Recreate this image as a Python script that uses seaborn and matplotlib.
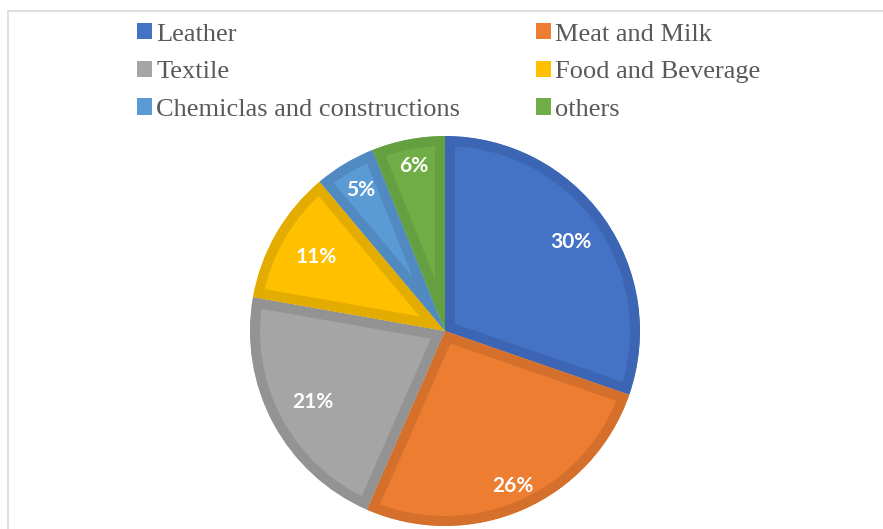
import matplotlib
matplotlib.use("Agg")
import matplotlib.pyplot as plt
from matplotlib.patches import Patch, Rectangle
import seaborn as sns

# Sector shares (%)
sectors = ["Leather", "Meat and Milk", "Textile", "Food and Beverage",
           "Chemiclas and constructions", "others"]
shares = [30, 26, 21, 11, 5, 6]

fill_colors = ["#4472C4", "#ED7D31", "#A5A5A5", "#FFC000", "#5B9BD5", "#70AD47"]
edge_colors = ["#3C66B3", "#D4702C", "#939393", "#E3AC00", "#518AC0", "#64A03F"]

sns.set_theme(style="white")
plt.rcParams["font.family"] = ["Liberation Serif", "DejaVu Serif"]

W, H = 883, 529
fig = plt.figure(figsize=(W / 100, H / 100), dpi=100)
fig.patch.set_facecolor("white")

# outer chart frame (only left and top sides are visible)
fig.add_artist(Rectangle((8 / W, -0.1), 2.0, (H - 11) / H + 0.1,
                         transform=fig.transFigure, fill=False,
                         edgecolor="#D9D9D9", linewidth=1.2))

cx, cy, r = 445, 331, 195
ax = fig.add_axes([(cx - r) / W, (H - cy - r) / H, 2 * r / W, 2 * r / H])

wedges, texts, autotexts = ax.pie(
    shares, colors=fill_colors, startangle=90, counterclock=False,
    radius=1, autopct=lambda p: f"{p:.0f}%", pctdistance=0.8,
    textprops=dict(color="white", fontsize=15, fontweight="bold",
                   family=["Lato", "DejaVu Sans"]),
    wedgeprops=dict(linewidth=0))
ax.set_xlim(-1, 1)
ax.set_ylim(-1, 1)
ax.set_aspect("equal")
ax.axis("off")

# darker inner rim on each slice: thick stroke clipped to the slice itself
for w, ec in zip(wedges, edge_colors):
    w.set_edgecolor(ec)
    w.set_linewidth(14.4)
    w.set_joinstyle("miter")
    w.set_clip_on(True)
    w.set_clip_path(w)

# nudge percentage labels radially
radial = [0.79, 0.87, 0.77, 0.76, 0.84, 0.86]
for t, k in zip(autotexts, radial):
    x, y = t.get_position()
    d = (x ** 2 + y ** 2) ** 0.5
    t.set_position((x / d * k, y / d * k))

# legend laid out row-wise in two columns
order = [0, 2, 4, 1, 3, 5]
handles = [Patch(facecolor=fill_colors[i], edgecolor="none", label=sectors[i]) for i in order]
leg = fig.legend(handles=handles, ncol=2, loc="upper left",
                 bbox_to_anchor=(137 / W, 1 - 23 / H), frameon=False,
                 fontsize=19, labelcolor="#595959",
                 handlelength=0.58, handleheight=0.58, handletextpad=0.15,
                 columnspacing=2.86, labelspacing=0.57, borderaxespad=0,
                 borderpad=0)

fig.savefig("out.png", dpi=100)
